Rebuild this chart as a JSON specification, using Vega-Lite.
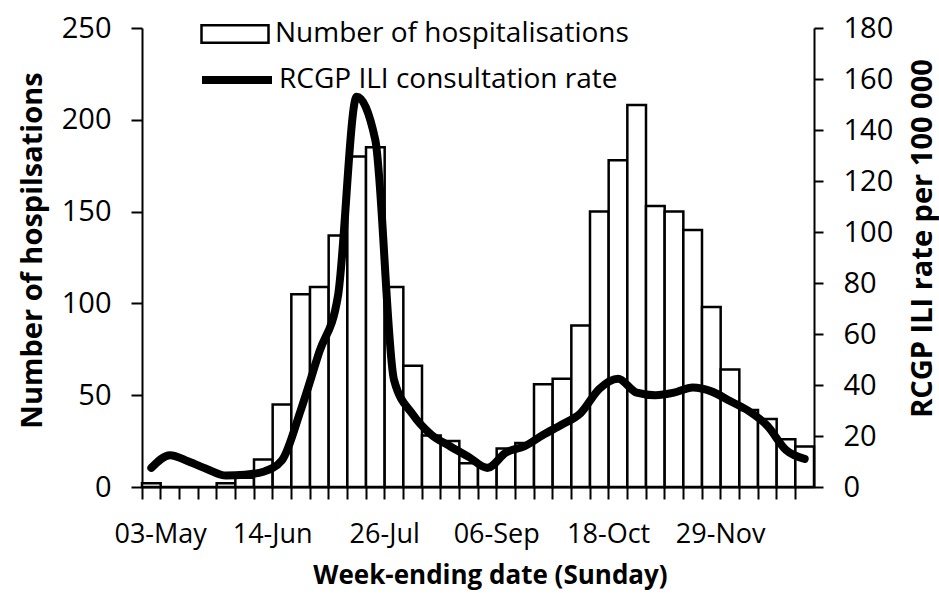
{
  "$schema": "https://vega.github.io/schema/vega-lite/v6.json",
  "width": 672,
  "height": 459,
  "autosize": {"type": "none"},
  "padding": {"left": 142, "top": 28, "right": 125, "bottom": 110},
  "background": "white",
  "config": {
    "view": {"stroke": null},
    "font": "Open Sans",
    "axis": {"domainColor": "black", "tickColor": "black", "labelColor": "black", "titleColor": "black", "grid": false, "labelFont": "Open Sans", "titleFont": "Open Sans", "domainWidth": 2, "tickWidth": 2}
  },
  "data": {"values": [
    {"week": "03-May", "hospitalisations": 2, "ili": 7.5},
    {"week": "10-May", "hospitalisations": 0, "ili": 12.5},
    {"week": "17-May", "hospitalisations": 0, "ili": 10},
    {"week": "24-May", "hospitalisations": 0, "ili": 7},
    {"week": "31-May", "hospitalisations": 2, "ili": 4.5},
    {"week": "07-Jun", "hospitalisations": 5, "ili": 4.8},
    {"week": "14-Jun", "hospitalisations": 15, "ili": 6},
    {"week": "21-Jun", "hospitalisations": 45, "ili": 10.5},
    {"week": "28-Jun", "hospitalisations": 105, "ili": 30},
    {"week": "05-Jul", "hospitalisations": 109, "ili": 53},
    {"week": "12-Jul", "hospitalisations": 137, "ili": 75},
    {"week": "19-Jul", "hospitalisations": 180, "ili": 153},
    {"week": "26-Jul", "hospitalisations": 185, "ili": 136},
    {"week": "02-Aug", "hospitalisations": 109, "ili": 42},
    {"week": "09-Aug", "hospitalisations": 66, "ili": 28.5},
    {"week": "16-Aug", "hospitalisations": 28, "ili": 20.5},
    {"week": "23-Aug", "hospitalisations": 25, "ili": 16},
    {"week": "30-Aug", "hospitalisations": 13, "ili": 11.8},
    {"week": "06-Sep", "hospitalisations": 12, "ili": 7.5},
    {"week": "13-Sep", "hospitalisations": 21, "ili": 13.5},
    {"week": "20-Sep", "hospitalisations": 24, "ili": 16},
    {"week": "27-Sep", "hospitalisations": 56, "ili": 20.5},
    {"week": "04-Oct", "hospitalisations": 59, "ili": 24.5},
    {"week": "11-Oct", "hospitalisations": 88, "ili": 29},
    {"week": "18-Oct", "hospitalisations": 150, "ili": 38.5},
    {"week": "25-Oct", "hospitalisations": 178, "ili": 42.5},
    {"week": "01-Nov", "hospitalisations": 208, "ili": 37},
    {"week": "08-Nov", "hospitalisations": 153, "ili": 36},
    {"week": "15-Nov", "hospitalisations": 150, "ili": 37},
    {"week": "22-Nov", "hospitalisations": 140, "ili": 39},
    {"week": "29-Nov", "hospitalisations": 98, "ili": 37.5},
    {"week": "06-Dec", "hospitalisations": 64, "ili": 33.7},
    {"week": "13-Dec", "hospitalisations": 42, "ili": 29.8},
    {"week": "20-Dec", "hospitalisations": 37, "ili": 24},
    {"week": "27-Dec", "hospitalisations": 26, "ili": 14.5},
    {"week": "03-Jan", "hospitalisations": 22, "ili": 11}
  ]},
  "layer": [
    {
      "mark": {"type": "bar", "stroke": "black", "strokeWidth": 2.5},
      "encoding": {
        "x": {
          "field": "week", "type": "ordinal", "sort": null,
          "scale": {"paddingInner": 0, "paddingOuter": 0},
          "axis": {
            "bandPosition": 0, "labelOffset": 9.33, "tickSize": 12, "labelPadding": 22,
            "labelAngle": 0, "labelFontSize": 27, "labelOverlap": false, "labelBound": false,
            "labelExpr": "indexof(['03-May','14-Jun','26-Jul','06-Sep','18-Oct','29-Nov'], datum.value) >= 0 ? datum.value : ''",
            "title": "Week-ending date (Sunday)", "titleFontSize": 26, "titleFontWeight": "bold",
            "titleX": 348, "titleY": 88, "titleBaseline": "middle", "titleAlign": "center"
          }
        },
        "y": {
          "field": "hospitalisations", "type": "quantitative",
          "scale": {"domain": [0, 250], "nice": false},
          "axis": {
            "values": [0, 50, 100, 150, 200, 250], "tickSize": 11, "labelPadding": 20, "labelFontSize": 29,
            "title": "Number of hospilsations", "titleFontSize": 29, "titleFontWeight": "bold",
            "titleX": -110, "titleY": 222, "titleAngle": 270, "titleAlign": "center", "titleBaseline": "middle"
          }
        },
        "fill": {
          "datum": "Number of hospitalisations",
          "scale": {"range": ["white"]},
          "legend": {
            "title": null, "orient": "none", "legendX": 58, "legendY": -29,
            "symbolType": "M-1,-0.26H1V0.26H-1Z", "symbolSize": 4489,
            "symbolStrokeColor": "black", "symbolStrokeWidth": 2.5,
            "labelFontSize": 28, "labelColor": "black", "labelFont": "Open Sans", "labelOffset": 5, "labelLimit": 600,
            "encode": {"symbols": {"update": {"stroke": {"value": "black"}, "strokeWidth": {"value": 2.5}, "fill": {"value": "white"}}}}
          }
        }
      }
    },
    {
      "mark": {"type": "line", "interpolate": "monotone", "strokeWidth": 8, "strokeCap": "round"},
      "encoding": {
        "x": {"field": "week", "type": "ordinal", "sort": null},
        "y": {
          "field": "ili", "type": "quantitative",
          "scale": {"domain": [0, 180], "nice": false},
          "axis": {
            "orient": "right", "values": [0, 20, 40, 60, 80, 100, 120, 140, 160, 180],
            "tickSize": 9, "labelPadding": 20, "labelFontSize": 29,
            "title": "RCGP ILI rate per 100 000", "titleFontSize": 29, "titleFontWeight": "bold",
            "titleX": 108, "titleY": 210, "titleAngle": 270, "titleAlign": "center", "titleBaseline": "middle"
          }
        },
        "stroke": {
          "datum": "RCGP ILI consultation rate",
          "scale": {"range": ["black"]},
          "legend": {
            "title": null, "orient": "none", "legendX": 56, "legendY": 13,
            "symbolType": "stroke", "symbolSize": 4900, "symbolStrokeWidth": 8,
            "labelFontSize": 28, "labelColor": "black", "labelFont": "Open Sans", "labelOffset": 3, "labelLimit": 600
          }
        }
      }
    }
  ],
  "resolve": {"scale": {"y": "independent", "fill": "independent", "stroke": "independent"}}
}
